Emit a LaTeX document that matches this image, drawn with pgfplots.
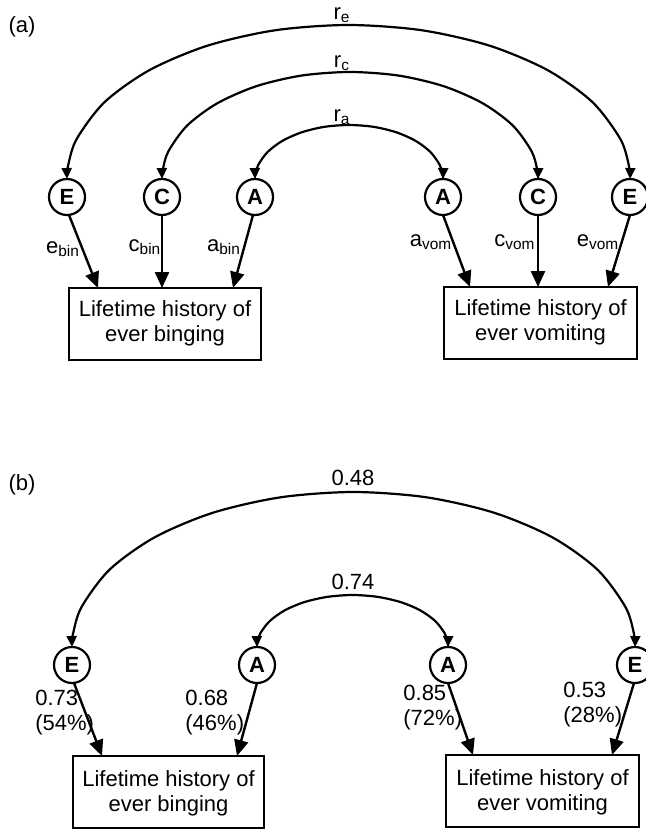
\documentclass[border=0pt]{standalone}
\usepackage{fontspec}
\setmainfont{Liberation Sans}
\usepackage{pgfplots}
\pgfplotsset{compat=1.18}
\usetikzlibrary{arrows.meta}
\begin{document}
\begin{tikzpicture}
\tikzset{
  lbl/.style={font=\fontsize{11}{12.5}\selectfont, inner sep=0pt, align=center},
  big/.style={-{Triangle[length=8pt,width=7pt]}, line width=1.2pt},
  arc/.style={{Triangle[length=5.5pt,width=5pt]}-{Triangle[length=5.5pt,width=5pt]}, smooth, line width=1.1pt},
  box/.style={line width=1.2pt, line cap=rect, line join=miter}
}
\path[use as bounding box] (0,0) rectangle (323pt,414.5pt);
\begin{axis}[at={(0,0)}, anchor=south west, scale only axis,
  width=323pt, height=414.5pt,
  xmin=0, xmax=646, ymin=0, ymax=829, y dir=reverse,
  hide axis, clip=false]

% ---------- panel (a): correlation arcs ----------
\addplot[arc] coordinates {(67,179) (68.1,165.6) (76.6,139.1) (104.7,102) (149.5,70.1) (207.7,45.6) (275.6,30.2) (348.5,25) (421.4,30.2) (489.3,45.6) (547.5,70.1) (592.3,102) (620.4,139.1) (628.9,165.6) (630,179)};
\addplot[arc] coordinates {(162,179) (162.8,169.7) (168.4,151.3) (187.2,125.5) (217.1,103.4) (256,86.3) (301.3,75.6) (350,72) (398.7,75.6) (444,86.3) (482.9,103.4) (512.8,125.5) (531.6,151.3) (537.2,169.7) (538,179)};
\addplot[arc] coordinates {(255,179) (255.4,174.3) (258.2,165) (267.6,152) (282.5,140.8) (302,132.2) (324.7,126.8) (349,125) (373.3,126.8) (396,132.2) (415.5,140.8) (430.4,152) (439.8,165) (442.6,174.3) (443,179)};

% ---------- panel (a): paths ----------
\addplot[big] coordinates {(69,215) (98,288)};
\addplot[big] coordinates {(162,215) (162,288)};
\addplot[big] coordinates {(253,215) (233,288)};
\addplot[big] coordinates {(443,215) (470,287)};
\addplot[big] coordinates {(538,215) (538,287)};
\addplot[big] coordinates {(630,215) (608,287)};

% ---------- panel (a): boxes ----------
\addplot[box] coordinates {(69,288) (261,288) (261,360) (69,360) (69,288)};
\addplot[box] coordinates {(444,287) (637,287) (637,359) (444,359) (444,287)};

% ---------- panel (b): correlation arcs ----------
\addplot[arc] coordinates {(72,647) (73.1,633.5) (81.6,606.9) (109.7,569.5) (154.5,537.4) (212.7,512.8) (280.6,497.3) (353.5,492) (426.4,497.3) (494.3,512.8) (552.5,537.4) (597.3,569.5) (625.4,606.9) (633.9,633.5) (635,647)};
\addplot[arc] coordinates {(257,647) (257.4,642.5) (260.2,633.5) (269.8,621) (285,610.2) (304.7,602) (327.8,596.8) (352.5,595) (377.2,596.8) (400.3,602) (420,610.2) (435.2,621) (444.8,633.5) (447.6,642.5) (448,647)};

% ---------- panel (b): paths ----------
\addplot[big] coordinates {(74,683) (102,756)};
\addplot[big] coordinates {(257,683) (237,756)};
\addplot[big] coordinates {(448,683) (473,755)};
\addplot[big] coordinates {(634,683) (612,755)};

% ---------- panel (b): boxes ----------
\addplot[box] coordinates {(73,756) (264,756) (264,828) (73,828) (73,756)};
\addplot[box] coordinates {(446,755) (639,755) (639,827) (446,827) (446,755)};

% ---------- latent variables ----------
\addplot[only marks, mark=*, mark size=9pt,
  mark options={fill=white, draw=black, line width=1.1pt},
  nodes near coords, point meta=explicit symbolic,
  nodes near coords align=center,
  every node near coord/.append style={anchor=center, inner sep=0pt,
     font=\bfseries\fontsize{11}{12}\selectfont}]
  table[meta=l] {
x y l
67 197 E
162 197 C
255 197 A
443 197 A
538 197 C
630 197 E
72 665 E
257 665 A
448 665 A
635 665 E
};

% ---------- text ----------
\node[lbl] at (axis cs:22,27) {(a)};
\node[lbl] at (axis cs:22,485) {(b)};
\node[lbl] at (axis cs:342,15) {r\textsubscript{e}};
\node[lbl] at (axis cs:342,63) {r\textsubscript{c}};
\node[lbl] at (axis cs:342,117) {r\textsubscript{a}};
\node[lbl] at (axis cs:63,249) {e\textsubscript{bin}};
\node[lbl] at (axis cs:145,247) {c\textsubscript{bin}};
\node[lbl] at (axis cs:224,247) {a\textsubscript{bin}};
\node[lbl] at (axis cs:431,242) {a\textsubscript{vom}};
\node[lbl] at (axis cs:515,242) {c\textsubscript{vom}};
\node[lbl] at (axis cs:598,242) {e\textsubscript{vom}};
\node[lbl] at (axis cs:165,323) {Lifetime history of\\ever binging};
\node[lbl] at (axis cs:540.5,322) {Lifetime history of\\ever vomiting};
\node[lbl] at (axis cs:353,478) {0.48};
\node[lbl] at (axis cs:353,582) {0.74};
\node[lbl, anchor=west, align=left] at (axis cs:35,713) {0.73\\(54\%)};
\node[lbl, anchor=west, align=left] at (axis cs:185,713) {0.68\\(46\%)};
\node[lbl, anchor=west, align=left] at (axis cs:403,708) {0.85\\(72\%)};
\node[lbl, anchor=west, align=left] at (axis cs:563,705) {0.53\\(28\%)};
\node[lbl] at (axis cs:168.5,793) {Lifetime history of\\ever binging};
\node[lbl] at (axis cs:542.5,792) {Lifetime history of\\ever vomiting};
\end{axis}
\end{tikzpicture}
\end{document}
